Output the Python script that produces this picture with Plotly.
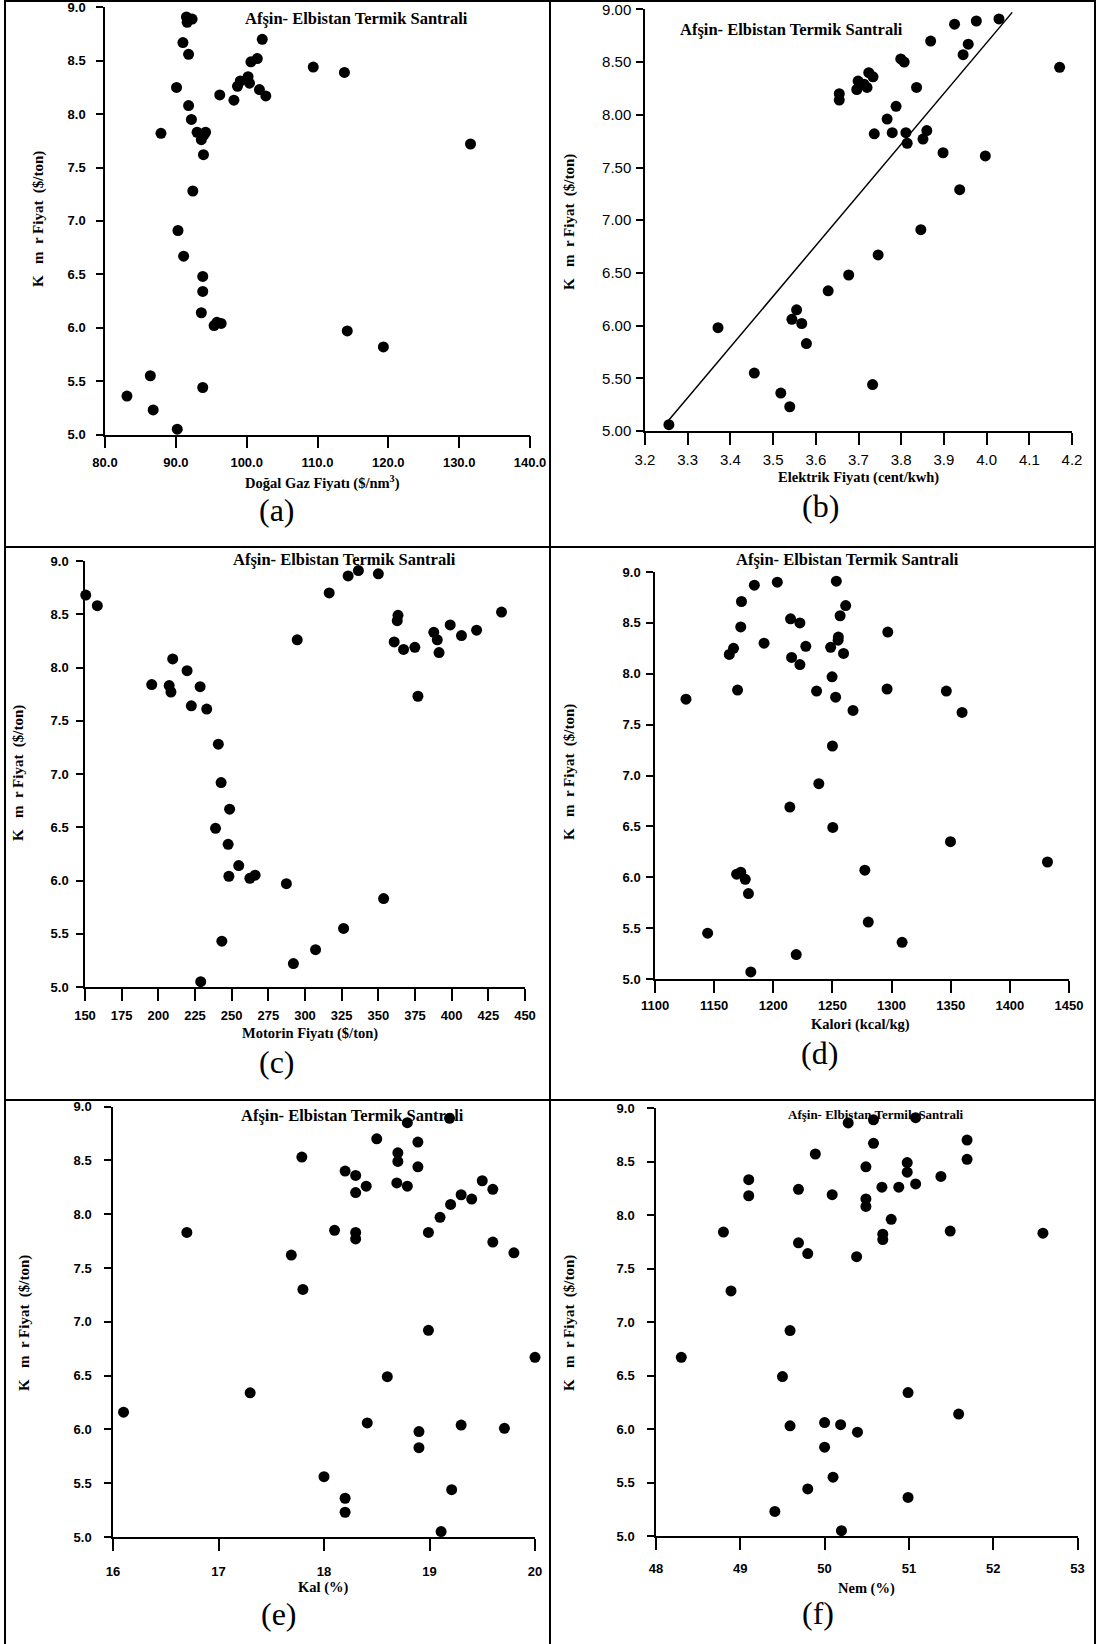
import numpy as np
import plotly.graph_objects as go

W, H = 1097, 1644

# ---- data: coal price (Kömür Fiyatı, $/ton) against six explanatory variables ----
A_X = [91.5, 92.3, 91.6, 91.0, 91.8, 102.2, 101.5, 100.6, 109.4, 113.8, 90.1, 96.2, 98.2, 98.7, 99.1,
       100.2, 100.4, 101.8, 102.7, 91.8, 92.2, 87.9, 93.0, 94.2, 93.6, 93.9, 93.9, 131.6, 92.4, 90.3,
       91.1, 93.8, 93.8, 93.6, 95.4, 95.8, 96.4, 114.2, 119.3, 86.4, 83.1, 93.8, 86.8, 90.2]
A_Y = [8.91, 8.89, 8.86, 8.67, 8.56, 8.70, 8.52, 8.49, 8.44, 8.39, 8.25, 8.18, 8.13, 8.26, 8.31,
       8.35, 8.29, 8.23, 8.17, 8.08, 7.95, 7.82, 7.83, 7.83, 7.76, 7.80, 7.62, 7.72, 7.28, 6.91,
       6.67, 6.48, 6.34, 6.14, 6.02, 6.05, 6.04, 5.97, 5.82, 5.55, 5.36, 5.44, 5.23, 5.05]

B_X = [3.256, 3.371, 3.456, 3.518, 3.539, 3.544, 3.555, 3.567, 3.578, 3.629, 3.677, 3.746, 3.733,
       3.655, 3.655, 3.696, 3.699, 3.713, 3.720, 3.724, 3.734, 3.737, 3.767, 3.779, 3.788, 3.799,
       3.807, 3.811, 3.814, 3.836, 3.846, 3.851, 3.860, 3.869, 3.898, 3.925, 3.937, 3.945, 3.957,
       3.976, 3.997, 4.029, 4.171]
B_Y = [5.06, 5.98, 5.55, 5.36, 5.23, 6.06, 6.15, 6.02, 5.83, 6.33, 6.48, 6.67, 5.44,
       8.20, 8.14, 8.24, 8.32, 8.29, 8.26, 8.40, 8.36, 7.82, 7.96, 7.83, 8.08, 8.53,
       8.50, 7.83, 7.73, 8.26, 6.91, 7.77, 7.85, 8.70, 7.64, 8.86, 7.29, 8.57, 8.67,
       8.89, 7.61, 8.91, 8.45]
# fitted trend for panel (b): y = slope * x + intercept over the drawn x span
TREND_SLOPE = 4.81
TREND_INTERCEPT = -10.557
TREND_X = [3.255, 4.06]

C_X = [150.5, 158.4, 195.5, 207.4, 208.6, 209.8, 219.6, 222.5, 228.5, 233.0, 240.9, 242.8, 248.6,
       239.0, 247.6, 254.8, 248.1, 262.4, 266.0, 287.3, 353.6, 243.3, 228.9, 292.1, 307.2, 326.3,
       294.7, 316.5, 329.4, 336.4, 350.0, 360.8, 363.4, 362.9, 367.2, 374.9, 377.0, 387.8, 390.2,
       391.4, 399.0, 406.7, 417.0, 434.0]
C_Y = [8.68, 8.58, 7.84, 7.83, 7.77, 8.08, 7.97, 7.64, 7.82, 7.61, 7.28, 6.92, 6.67,
       6.49, 6.34, 6.14, 6.04, 6.02, 6.05, 5.97, 5.83, 5.43, 5.05, 5.22, 5.35, 5.55,
       8.26, 8.70, 8.86, 8.91, 8.88, 8.24, 8.49, 8.44, 8.17, 8.19, 7.73, 8.33, 8.26,
       8.14, 8.40, 8.30, 8.35, 8.52]

D_X = [1126.2, 1144.5, 1162.8, 1166.4, 1169.8, 1173.1, 1172.5, 1169.0, 1172.5, 1176.3, 1179.0,
       1181.0, 1184.0, 1192.2, 1203.4, 1214.6, 1222.5, 1215.5, 1222.5, 1227.5, 1236.6, 1214.0,
       1238.5, 1219.4, 1248.5, 1249.7, 1250.0, 1250.3, 1252.7, 1253.3, 1254.8, 1255.0, 1256.5,
       1259.4, 1261.2, 1267.4, 1277.4, 1280.3, 1296.2, 1296.8, 1308.9, 1346.3, 1349.8, 1359.6,
       1431.8]
D_Y = [7.75, 5.45, 8.19, 8.25, 7.84, 8.71, 8.46, 6.03, 6.05, 5.98, 5.84,
       5.07, 8.87, 8.30, 8.90, 8.54, 8.50, 8.16, 8.09, 8.27, 7.83, 6.69,
       6.92, 5.24, 8.26, 7.97, 7.29, 6.49, 7.77, 8.91, 8.33, 8.36, 8.57,
       8.20, 8.67, 7.64, 6.07, 5.56, 7.85, 8.41, 5.36, 7.83, 6.35, 7.62,
       6.15]

E_X = [16.10, 16.70, 17.30, 17.69, 17.79, 17.80, 18.00, 18.10, 18.20, 18.20, 18.20, 18.30, 18.30,
       18.30, 18.30, 18.40, 18.41, 18.50, 18.60, 18.70, 18.70, 18.69, 18.79, 18.79, 18.89, 18.89,
       18.90, 18.90, 18.99, 18.99, 19.10, 19.11, 19.19, 19.20, 19.21, 19.30, 19.30, 19.40, 19.50,
       19.60, 19.60, 19.71, 19.80, 20.00]
E_Y = [6.16, 7.83, 6.34, 7.62, 8.53, 7.30, 5.56, 7.85, 8.40, 5.36, 5.23, 8.36, 8.20,
       7.83, 7.77, 8.26, 6.06, 8.70, 6.49, 8.57, 8.49, 8.29, 8.85, 8.26, 8.67, 8.44,
       5.98, 5.83, 7.83, 6.92, 7.97, 5.05, 8.89, 8.09, 5.44, 8.18, 6.04, 8.14, 8.31,
       8.23, 7.74, 6.01, 7.64, 6.67]

F_X = [48.30, 48.80, 48.89, 49.10, 49.10, 49.41, 49.50, 49.59, 49.59, 49.69, 49.69, 49.80, 49.80,
       49.89, 50.00, 50.00, 50.09, 50.10, 50.19, 50.20, 50.28, 50.38, 50.39, 50.49, 50.49, 50.49,
       50.58, 50.58, 50.68, 50.69, 50.69, 50.79, 50.88, 50.98, 50.98, 50.99, 50.99, 51.08, 51.08,
       51.38, 51.49, 51.59, 51.69, 51.69, 52.59]
F_Y = [6.67, 7.84, 7.29, 8.33, 8.18, 5.23, 6.49, 6.92, 6.03, 8.24, 7.74, 7.64, 5.44,
       8.57, 6.06, 5.83, 8.19, 5.55, 6.04, 5.05, 8.86, 7.61, 5.97, 8.45, 8.15, 8.08,
       8.89, 8.67, 8.26, 7.82, 7.77, 7.96, 8.26, 8.49, 8.40, 6.34, 5.36, 8.91, 8.29,
       8.36, 7.85, 6.14, 8.70, 8.52, 7.83]

PLANT = "Afşin- Elbistan Termik Santrali"
NB = "\u00a0"
Y_TITLE = "K" + NB * 3 + "m" + NB * 2 + "r Fiyat" + NB * 2 + "($/ton)"

SERIF = "Liberation Serif"
SANS = "Liberation Sans"
BOLD_TICKS = dict(family=SANS, size=13, weight="bold")

# ---- panel geometry (pixels): plot box, axis settings, text placement ----
panels = [
    dict(key="a", x=A_X, y=A_Y, box=(105, 530, 7.3, 434.5), xr=[80, 140], xt=list(range(80, 141, 10)),
         xfmt=".1f", yfmt=".1f", xtitle="Doğal Gaz Fiyatı ($/nm<sup>3</sup>)",
         title_xy=(356, 19), title_size=16.5, xtitle_xy=(322, 483), ytitle_xy=(38, 219), lab_xy=(277, 510),
         tickfont=BOLD_TICKS, xstand=3, ystand=8),
    dict(key="b", x=B_X, y=B_Y, box=(645, 1072, 9.4, 431), xr=[3.2, 4.2], xt=[round(3.2 + 0.1 * i, 1) for i in range(11)],
         xfmt=".1f", yfmt=".2f", xtitle="Elektrik Fiyatı (cent/kwh)",
         title_xy=(791, 29), title_size=16.5, xtitle_xy=(858, 477), ytitle_xy=(569, 222), lab_xy=(820, 506),
         tickfont=dict(family=SANS, size=15), xstand=2, ystand=2),
    dict(key="c", x=C_X, y=C_Y, box=(85, 525, 561, 987), xr=[150, 450], xt=list(range(150, 451, 25)),
         xfmt="d", yfmt=".1f", xtitle="Motorin Fiyatı ($/ton)",
         title_xy=(344, 559), title_size=16.5, xtitle_xy=(310, 1033), ytitle_xy=(18, 773), lab_xy=(277, 1062),
         tickfont=BOLD_TICKS, xstand=4, ystand=5),
    dict(key="d", x=D_X, y=D_Y, box=(655, 1069, 572, 979), xr=[1100, 1450], xt=list(range(1100, 1451, 50)),
         xfmt="d", yfmt=".1f", xtitle="Kalori (kcal/kg)",
         title_xy=(847, 559), title_size=16.5, xtitle_xy=(860, 1024), ytitle_xy=(569, 772), lab_xy=(819, 1053),
         tickfont=BOLD_TICKS, xstand=2, ystand=3),
    dict(key="e", x=E_X, y=E_Y, box=(113, 535, 1106.5, 1537), xr=[16, 20], xt=list(range(16, 21)),
         xfmt="d", yfmt=".1f", xtitle="Kal (%)",
         title_xy=(352, 1115), title_size=16.5, xtitle_xy=(323, 1587), ytitle_xy=(24, 1323), lab_xy=(279, 1614),
         tickfont=BOLD_TICKS, xstand=10, ystand=10),
    dict(key="f", x=F_X, y=F_Y, box=(656, 1077.5, 1108, 1536), xr=[48, 53], xt=list(range(48, 54)),
         xfmt="d", yfmt=".1f", xtitle="Nem (%)",
         title_xy=(876, 1114), title_size=13, xtitle_xy=(866, 1588), ytitle_xy=(569, 1323), lab_xy=(818, 1613),
         tickfont=BOLD_TICKS, xstand=8, ystand=10),
]


def px_x(v):
    return v / W


def px_y(v):
    return 1 - v / H


fig = go.Figure()
annotations = []

for i, p in enumerate(panels):
    n = "" if i == 0 else str(i + 1)
    xa, ya = "x" + n, "y" + n
    x0, x1, ytop, ybot = p["box"]

    fig.add_trace(go.Scatter(
        x=p["x"], y=p["y"], xaxis=xa, yaxis=ya, mode="markers",
        marker=dict(color="black", size=11, line=dict(width=0)),
        cliponaxis=False, showlegend=False, hoverinfo="x+y"))

    if p["key"] == "b":
        tx = np.array(TREND_X)
        fig.add_trace(go.Scatter(
            x=tx, y=TREND_SLOPE * tx + TREND_INTERCEPT, xaxis=xa, yaxis=ya, mode="lines",
            line=dict(color="black", width=1.5), showlegend=False, hoverinfo="skip"))

    common = dict(showline=True, linecolor="black", linewidth=1.5, ticks="outside",
                  tickcolor="black", tickwidth=1.5, showgrid=False, zeroline=False,
                  automargin=False, ticklabeloverflow="allow",
                  tickfont=dict(color="black", **p["tickfont"]))
    fig.update_layout(**{
        ("xaxis" + n): dict(domain=[px_x(x0), px_x(x1)], range=p["xr"], anchor=ya,
                            tickmode="array", tickvals=p["xt"], tickformat=p["xfmt"],
                            ticklen=12, ticklabelstandoff=p["xstand"], **common),
        ("yaxis" + n): dict(domain=[px_y(ybot), px_y(ytop)], range=[5, 9], anchor=xa,
                            tickmode="array", tickvals=[5.0, 5.5, 6.0, 6.5, 7.0, 7.5, 8.0, 8.5, 9.0],
                            tickformat=p["yfmt"],
                            ticklen=7, ticklabelstandoff=p["ystand"], **common),
    })

    tx_, ty_ = p["title_xy"]
    annotations.append(dict(text=PLANT, x=px_x(tx_), y=px_y(ty_), xref="paper", yref="paper",
                            showarrow=False, xanchor="center", yanchor="middle",
                            font=dict(family=SERIF, size=p["title_size"], color="black", weight="bold")))
    tx_, ty_ = p["xtitle_xy"]
    annotations.append(dict(text=p["xtitle"], x=px_x(tx_), y=px_y(ty_), xref="paper", yref="paper",
                            showarrow=False, xanchor="center", yanchor="middle",
                            font=dict(family=SERIF, size=14.5, color="black", weight="bold")))
    tx_, ty_ = p["ytitle_xy"]
    annotations.append(dict(text=Y_TITLE, x=px_x(tx_), y=px_y(ty_), xref="paper", yref="paper",
                            showarrow=False, xanchor="center", yanchor="middle", textangle=-90,
                            font=dict(family=SERIF, size=15, color="black", weight="bold")))
    tx_, ty_ = p["lab_xy"]
    annotations.append(dict(text="(" + p["key"] + ")", x=px_x(tx_), y=px_y(ty_), xref="paper", yref="paper",
                            showarrow=False, xanchor="center", yanchor="middle",
                            font=dict(family=SERIF, size=32, color="black")))

# cell frame lines
shapes = []
for xv in (5, 550, 1095):
    shapes.append(dict(type="line", xref="paper", yref="paper", x0=px_x(xv), x1=px_x(xv), y0=0, y1=1,
                       line=dict(color="black", width=2)))
for yv in (1, 547, 1100):
    shapes.append(dict(type="line", xref="paper", yref="paper", x0=px_x(5), x1=px_x(1095), y0=px_y(yv), y1=px_y(yv),
                       line=dict(color="black", width=2)))

fig.update_layout(width=W, height=H, margin=dict(l=0, r=0, t=0, b=0, pad=0, autoexpand=False),
                  paper_bgcolor="white", plot_bgcolor="white",
                  annotations=annotations, shapes=shapes, showlegend=False)

fig.write_html("out.html")
